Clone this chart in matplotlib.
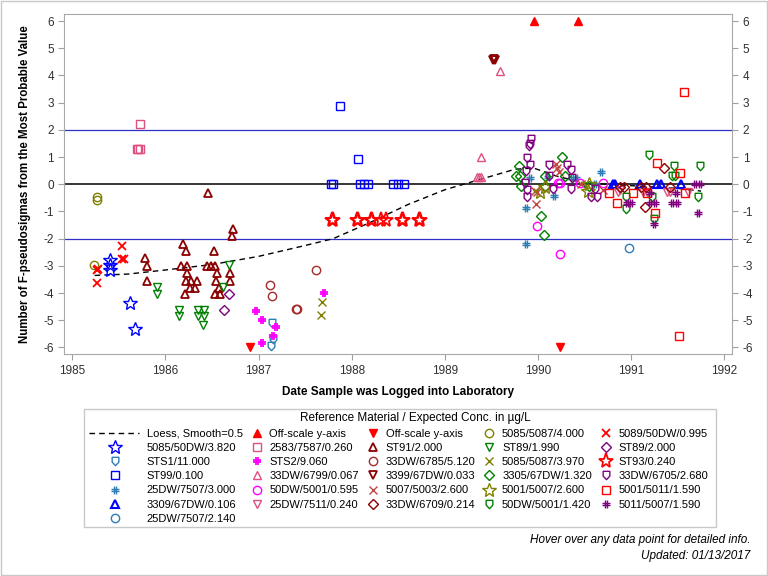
import numpy as np
import matplotlib.pyplot as plt
from matplotlib.path import Path
from matplotlib.legend_handler import HandlerLine2D
from matplotlib.patches import Rectangle

plt.rcParams['font.family'] = ['Liberation Sans', 'DejaVu Sans']
plt.rcParams['axes.unicode_minus'] = False

# ---- data (decimal year, F-pseudosigmas) ----
loess_x = [1985.24, 1985.6, 1986.0, 1986.5, 1987.0, 1987.5, 1987.8, 1988.2, 1988.6,
           1989.0, 1989.4, 1989.75, 1989.95, 1990.2, 1990.5, 1991.0, 1991.5, 1991.75]
loess_y = [-3.35, -3.3, -3.15, -2.95, -2.65, -2.25, -2.0, -1.4, -0.75,
           -0.2, 0.2, 0.55, 0.6, 0.3, 0.05, -0.05, -0.15, -0.25]

s5085_50dw_x = [1985.41, 1985.41, 1985.40, 1985.62, 1985.67]
s5085_50dw_y = [-2.79, -2.98, -3.16, -4.36, -5.33]
sts1_x = [1987.14, 1987.15, 1987.13]
sts1_y = [-5.10, -5.67, -5.93]
st99_x = [1987.78, 1987.80, 1987.87, 1988.07, 1988.09, 1988.13, 1988.17, 1988.44, 1988.50, 1988.56]
st99_y = [0, 0, 2.86, 0.94, 0, 0, 0, 0, 0, 0]
s25dw_3000_x = [1989.87, 1989.87, 1989.91, 1990.11, 1990.17, 1990.36, 1990.41, 1990.68, 1990.61]
s25dw_3000_y = [-0.88, -2.18, 0.24, 0.28, -0.43, 0.22, 0.22, 0.44, 0.0]
s3309_x = [1990.81, 1990.83, 1991.09, 1991.28, 1991.32, 1991.54]
s3309_y = [0, 0, 0, 0, 0, 0]
s25dw_2140_x = [1990.98]
s25dw_2140_y = [-2.33]
off_up_x = [1989.96, 1990.43]
off_up_y = [6, 6]
s2583_x = [1985.73, 1985.69, 1985.71, 1985.73]
s2583_y = [2.2, 1.28, 1.28, 1.28]
sts2_x = [1986.97, 1987.04, 1987.19, 1987.16, 1987.04, 1987.70]
sts2_y = [-4.67, -4.98, -5.25, -5.59, -5.83, -3.98]
s33dw_6799_x = [1989.59, 1989.39, 1989.35, 1989.37, 1989.39]
s33dw_6799_y = [4.18, 1.02, 0.26, 0.26, 0.26]
s50dw_0595_x = [1989.99, 1990.24, 1990.21, 1990.24, 1990.45, 1990.70]
s50dw_0595_y = [-1.52, -2.55, 0.04, 0.04, 0.03, 0.04]
s25dw_7511_x = [1990.86, 1990.88, 1991.13, 1991.17, 1991.38, 1991.42, 1991.61]
s25dw_7511_y = [-0.27, -0.22, -0.27, -0.27, -0.27, -0.27, -0.27]
off_dn_x = [1986.91, 1990.24]
off_dn_y = [-6, -6]
st91_x = [1986.46, 1986.72, 1986.71, 1985.78, 1985.80, 1985.80, 1986.19, 1986.22, 1986.17, 1986.23,
          1986.23, 1986.22, 1986.27, 1986.34, 1986.26, 1986.32, 1986.21, 1986.52, 1986.45, 1986.49,
          1986.53, 1986.55, 1986.54, 1986.69, 1986.69, 1986.57, 1986.53, 1986.59]
st91_y = [-0.31, -1.63, -1.91, -2.71, -2.99, -3.54, -2.18, -2.45, -2.99, -2.99,
          -3.26, -3.54, -3.54, -3.54, -3.80, -3.80, -4.04, -2.45, -2.99, -2.99,
          -2.99, -3.26, -3.54, -3.26, -3.54, -3.80, -4.04, -4.04]
s33dw_6785_x = [1987.12, 1987.14, 1987.40, 1987.41, 1987.62]
s33dw_6785_y = [-3.71, -4.09, -4.57, -4.57, -3.14]
s3399_x = [1989.52, 1989.54, 1989.53]
s3399_y = [4.58, 4.58, 4.62]
s5007_5003_x = [1990.19, 1990.20, 1990.22, 1989.97, 1989.99, 1989.98, 1990.46, 1990.70]
s5007_5003_y = [0.73, 0.59, 0.46, -0.25, -0.29, -0.74, 0.0, -0.21]
s33dw_6709_x = [1991.35, 1990.88, 1990.92, 1991.11, 1991.16, 1991.15, 1991.42]
s33dw_6709_y = [0.61, -0.09, -0.09, -0.09, -0.09, -0.82, -0.09]
s5085_4000_x = [1985.26, 1985.26, 1985.23]
s5085_4000_y = [-0.47, -0.56, -2.98]
st89_1990_x = [1985.91, 1985.91, 1986.15, 1986.15, 1986.35, 1986.41, 1986.35, 1986.41, 1986.40, 1986.68, 1986.62]
st89_1990_y = [-3.78, -4.02, -4.61, -4.85, -4.61, -4.61, -4.85, -4.85, -5.16, -2.98, -3.78]
s5085_3970_x = [1987.68, 1987.67]
s5085_3970_y = [-4.32, -4.79]
s3305_x = [1989.80, 1989.76, 1989.81, 1989.82, 1990.07, 1990.07, 1990.26, 1990.29, 1990.03, 1990.06, 1990.55]
s3305_y = [0.67, 0.30, 0.30, -0.06, 0.30, -0.06, 0.99, 0.30, -1.15, -1.88, -0.06]
s5001_5007_x = [1990.02, 1990.07, 1990.54, 1990.55]
s5001_5007_y = [-0.27, -0.09, -0.25, 0.0]
s50dw_1420_x = [1991.19, 1991.46, 1991.74, 1991.44, 1991.47, 1990.94, 1990.94, 1991.22, 1991.24, 1991.72]
s50dw_1420_y = [1.09, 0.67, 0.67, 0.29, 0.29, -0.47, -0.90, -0.47, -1.26, -0.47]
s5089_x = [1985.53, 1985.53, 1985.55, 1985.27, 1985.28, 1985.27]
s5089_y = [-2.28, -2.73, -2.73, -3.16, -3.10, -3.64]
st89_2000_x = [1986.68, 1986.63]
st89_2000_y = [-4.04, -4.61]
st93_x = [1987.79, 1987.80, 1988.06, 1988.07, 1988.21, 1988.22, 1988.31, 1988.37, 1988.54, 1988.55, 1988.72, 1988.73]
st93_y = [-1.33] * 12
s33dw_6705_x = [1989.92, 1989.91, 1989.90, 1989.88, 1989.91, 1989.87, 1989.86, 1989.88, 1989.88, 1990.12,
                1990.12, 1990.16, 1990.31, 1990.35, 1990.37, 1990.35, 1990.61, 1990.57, 1990.63]
s33dw_6705_y = [1.68, 1.47, 1.40, 0.98, 0.72, 0.48, 0.06, -0.20, -0.47, 0.72,
                0.29, -0.16, 0.72, 0.51, 0.23, -0.16, -0.16, -0.47, -0.47]
s5001_5011_x = [1990.76, 1990.85, 1991.02, 1991.17, 1991.28, 1991.52, 1991.58, 1991.26, 1991.51, 1991.57]
s5001_5011_y = [-0.33, -0.70, -0.33, -0.33, 0.77, 0.40, -0.33, -1.07, -5.56, 3.38]
s5011_5007_x = [1990.96, 1991.00, 1991.20, 1991.20, 1991.26, 1991.25, 1991.44, 1991.49, 1991.48, 1991.69, 1991.74, 1991.72]
s5011_5007_y = [-0.70, -0.70, -0.33, -0.70, -0.70, -1.46, -0.70, -0.70, -0.33, 0.02, 0.02, -1.07]

# ---- custom markers ----
hash_mk = Path([(-0.35, -1), (-0.35, 1), (0.35, -1), (0.35, 1),
                (-1, -0.35), (1, -0.35), (-1, 0.35), (1, 0.35)],
               [Path.MOVETO, Path.LINETO] * 4)
shield_mk = Path([(-0.8, 1), (0.8, 1), (0.8, -0.15), (0, -1), (-0.8, -0.15), (-0.8, 1)], closed=True)

BLUE = '#0000FF'
STEEL = '#2E7DB5'
PINK = '#E0507E'
MAG = '#FF00FF'
DRED = '#8B0000'
BROWN = '#A52A2A'
XRED = '#C04545'
OLIVE = '#808000'
GREEN = '#008000'
RED = '#FF0000'
PURPLE = '#800080'

W, H = 768, 576
fig = plt.figure(figsize=(7.68, 5.76), dpi=100)
ax = fig.add_axes([64.3 / W, 1 - 354.3 / H, (732.3 - 64.3) / W, (354.3 - 14) / H])

ax.axhline(0, color='black', lw=1.1, zorder=1)
ax.axhline(2, color='#3030C8', lw=0.9, zorder=1)
ax.axhline(-2, color='#3030C8', lw=0.9, zorder=1)


def pts(x, y, color, marker, label, ms=6, filled=False, mew=1.0):
    h, = ax.plot(x, y, ls='none', marker=marker, ms=ms, mec=color,
                 mfc=color if filled else 'none', mew=mew, label=label, zorder=3)
    return h


handles = []
lo, = ax.plot(loess_x, loess_y, color='black', ls=(0, (4, 3)), lw=1.0, label='Loess, Smooth=0.5', zorder=2)
handles.append(lo)
handles.append(pts(s5085_50dw_x, s5085_50dw_y, BLUE, '*', '5085/50DW/3.820', ms=10, mew=1.0))
handles.append(pts(sts1_x, sts1_y, STEEL, shield_mk, 'STS1/11.000'))
handles.append(pts(st99_x, st99_y, BLUE, 's', 'ST99/0.100', ms=6))
handles.append(pts(s25dw_3000_x, s25dw_3000_y, STEEL, hash_mk, '25DW/7507/3.000'))
handles.append(pts(s3309_x, s3309_y, BLUE, '^', '3309/67DW/0.106', mew=1.5))
handles.append(pts(s25dw_2140_x, s25dw_2140_y, STEEL, 'o', '25DW/7507/2.140'))

handles.append(pts(off_up_x, off_up_y, RED, '^', 'Off-scale y-axis', filled=True))
handles.append(pts(s2583_x, s2583_y, PINK, 's', '2583/7587/0.260'))
handles.append(pts(sts2_x, sts2_y, MAG, hash_mk, 'STS2/9.060', mew=1.3))
handles.append(pts(s33dw_6799_x, s33dw_6799_y, PINK, '^', '33DW/6799/0.067'))
handles.append(pts(s50dw_0595_x, s50dw_0595_y, MAG, 'o', '50DW/5001/0.595'))
handles.append(pts(s25dw_7511_x, s25dw_7511_y, PINK, 'v', '25DW/7511/0.240'))

handles.append(pts(off_dn_x, off_dn_y, RED, 'v', 'Off-scale y-axis', filled=True))
handles.append(pts(st91_x, st91_y, DRED, '^', 'ST91/2.000', mew=1.3))
handles.append(pts(s33dw_6785_x, s33dw_6785_y, BROWN, 'o', '33DW/6785/5.120'))
handles.append(pts(s3399_x, s3399_y, DRED, 'v', '3399/67DW/0.033', mew=1.3))
handles.append(pts(s5007_5003_x, s5007_5003_y, XRED, 'x', '5007/5003/2.600'))
handles.append(pts(s33dw_6709_x, s33dw_6709_y, DRED, 'D', '33DW/6709/0.214', ms=5))

handles.append(pts(s5085_4000_x, s5085_4000_y, OLIVE, 'o', '5085/5087/4.000'))
handles.append(pts(st89_1990_x, st89_1990_y, GREEN, 'v', 'ST89/1.990'))
handles.append(pts(s5085_3970_x, s5085_3970_y, OLIVE, 'x', '5085/5087/3.970'))
handles.append(pts(s3305_x, s3305_y, GREEN, 'D', '3305/67DW/1.320', ms=5))
handles.append(pts(s5001_5007_x, s5001_5007_y, OLIVE, '*', '5001/5007/2.600', ms=10))
handles.append(pts(s50dw_1420_x, s50dw_1420_y, GREEN, shield_mk, '50DW/5001/1.420'))

handles.append(pts(s5089_x, s5089_y, RED, 'x', '5089/50DW/0.995', mew=1.3))
handles.append(pts(st89_2000_x, st89_2000_y, PURPLE, 'D', 'ST89/2.000', ms=5))
handles.append(pts(st93_x, st93_y, RED, '*', 'ST93/0.240', ms=11, mew=1.3))
handles.append(pts(s33dw_6705_x, s33dw_6705_y, PURPLE, shield_mk, '33DW/6705/2.680'))
handles.append(pts(s5001_5011_x, s5001_5011_y, RED, 's', '5001/5011/1.590'))
handles.append(pts(s5011_5007_x, s5011_5007_y, PURPLE, hash_mk, '5011/5007/1.590'))

ax.set_xlim(1984.914, 1992.086)
ax.set_ylim(-6.25, 6.26)
ax.set_xticks(range(1985, 1993))
ax.set_yticks(range(-6, 7))
ax.tick_params(axis='both', direction='out', length=4, color='#A0A0A0', labelsize=8.5, labelcolor='#303030')
ax.tick_params(axis='y', right=True, labelright=True)
for sp in ax.spines.values():
    sp.set_color('#A8A8A8')
ax.set_xlabel('Date Sample was Logged into Laboratory', fontsize=8.5, fontweight='bold', labelpad=7)
ax.set_ylabel('Number of F-pseudosigmas from the Most Probable Value', fontsize=8.3, fontweight='bold', labelpad=9)


class ShiftHandler(HandlerLine2D):
    def __init__(self, shift=0.0, extend=0.0, **kw):
        super().__init__(**kw)
        self.shift = shift
        self.extend = extend

    def create_artists(self, legend, orig_handle, xdescent, ydescent, width, height, fontsize, trans):
        return super().create_artists(legend, orig_handle, xdescent + self.shift, ydescent,
                                      width + self.extend, height, fontsize, trans)


hmap = {handles[0]: ShiftHandler(shift=24.5, extend=20.2)}
for h in handles[1:7]:
    hmap[h] = ShiftHandler(shift=13.7)

leg = fig.legend(handles=handles, loc='upper left', bbox_to_anchor=(119.6 / W, 1 - 409 / H),
                 ncol=5, fontsize=8, title='Reference Material / Expected Conc. in µg/L',
                 title_fontsize=8.5, frameon=False, borderaxespad=0, handlelength=2.0,
                 handletextpad=0.15, columnspacing=0.25, labelspacing=0.38, borderpad=0.3,
                 handler_map=hmap)

# legend frame, widened on the left to hold the long loess sample
fig.canvas.draw()
bb = leg.get_window_extent(fig.canvas.get_renderer())
fig.patches.append(Rectangle((84 / W, bb.y0 / H), (bb.x1 + 4 - 84) / W, (bb.y1 - bb.y0) / H,
                             transform=fig.transFigure, fill=False, edgecolor='#C8C8C8', lw=1.0))

fig.text(750 / W, 1 - 540 / H, 'Hover over any data point for detailed info.', ha='right', va='center',
         fontsize=8.5, style='italic')
fig.text(750 / W, 1 - 556 / H, 'Updated: 01/13/2017', ha='right', va='center',
         fontsize=8.5, style='italic')

fig.patches.append(Rectangle((0.001, 0.001), 0.998, 0.997, transform=fig.transFigure, fill=False,
                             edgecolor='#C8C8C8', lw=1.0))

fig.savefig('out.png', dpi=100)
